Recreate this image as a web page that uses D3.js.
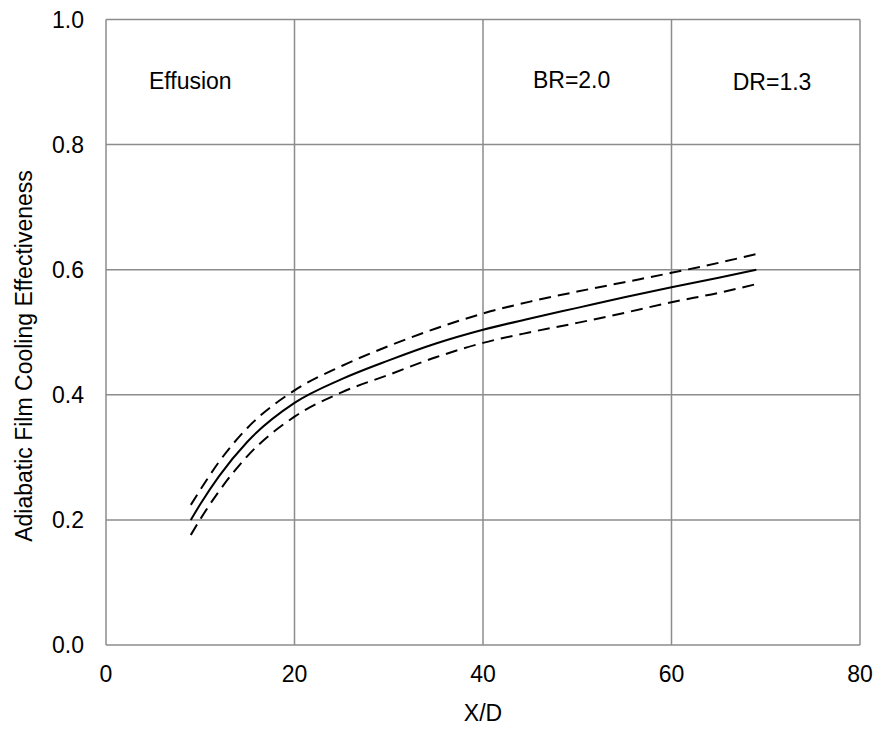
<!DOCTYPE html>
<html><head><meta charset="utf-8">
<script src="https://cdn.jsdelivr.net/npm/d3@7"></script>
<style>body{margin:0;background:#fff}svg{display:block}text{font-family:"Liberation Sans",Arial,sans-serif;fill:#000}</style>
</head><body>
<svg id="c" width="878" height="729"></svg>
<script>
const xTicks=[0,20,40,60,80];
const yTicks=[0.0,0.2,0.4,0.6,0.8,1.0];
const xd=[9,10,12,15,20,25,30,35,40,45,50,55,60,65,69];
const meanEta=[0.200,0.225,0.270,0.325,0.387,0.425,0.455,0.482,0.504,0.522,0.539,0.556,0.572,0.587,0.600];
const upperEta=[0.224,0.248,0.293,0.347,0.407,0.446,0.478,0.506,0.530,0.549,0.565,0.580,0.595,0.611,0.625];
const lowerEta=[0.176,0.201,0.246,0.302,0.365,0.404,0.432,0.460,0.483,0.500,0.515,0.531,0.548,0.563,0.577];
const labels=[{t:"Effusion",x:4.56,y:0.889},{t:"BR=2.0",x:45.3,y:0.891},{t:"DR=1.3",x:66.5,y:0.887}];

const svg=d3.select("#c");
const L=106,R=860,T=19.5,B=645;
const x=d3.scaleLinear().domain([0,80]).range([L,R]);
const y=d3.scaleLinear().domain([0,1]).range([B,T]);
const g=svg.append("g");
const grid="#8c8c8c";
const FS=23;
g.selectAll(".vg").data(xTicks).join("line").attr("x1",d=>x(d)).attr("x2",d=>x(d)).attr("y1",T).attr("y2",B).attr("stroke",grid).attr("stroke-width",1.5);
g.selectAll(".hg").data(yTicks).join("line").attr("y1",d=>y(d)).attr("y2",d=>y(d)).attr("x1",L).attr("x2",R).attr("stroke",grid).attr("stroke-width",1.5);
g.selectAll(".xt").data(xTicks).join("text").attr("x",d=>x(d)).attr("y",682).attr("text-anchor","middle").attr("font-size",FS).text(d=>d);
g.selectAll(".yt").data(yTicks).join("text").attr("x",84).attr("y",d=>y(d)+8).attr("text-anchor","end").attr("font-size",FS).text(d=>d.toFixed(1));
svg.append("text").attr("x",(L+R)/2).attr("y",721).attr("text-anchor","middle").attr("font-size",FS).text("X/D");
svg.append("text").attr("transform","translate(32,356) rotate(-90)").attr("text-anchor","middle").attr("font-size",FS).text("Adiabatic Film Cooling Effectiveness");
const line=d3.line().x(d=>x(d[0])).y(d=>y(d[1])).curve(d3.curveMonotoneX);
const mk=a=>xd.map((v,i)=>[v,a[i]]);
g.append("path").attr("d",line(mk(upperEta))).attr("fill","none").attr("stroke","#000").attr("stroke-width",2).attr("stroke-dasharray","12,7");
g.append("path").attr("d",line(mk(lowerEta))).attr("fill","none").attr("stroke","#000").attr("stroke-width",2).attr("stroke-dasharray","12,7");
g.append("path").attr("d",line(mk(meanEta))).attr("fill","none").attr("stroke","#000").attr("stroke-width",2);
g.selectAll(".lb").data(labels).join("text").attr("x",d=>x(d.x)).attr("y",d=>y(d.y)).attr("font-size",FS).text(d=>d.t);
</script>
</body></html>
